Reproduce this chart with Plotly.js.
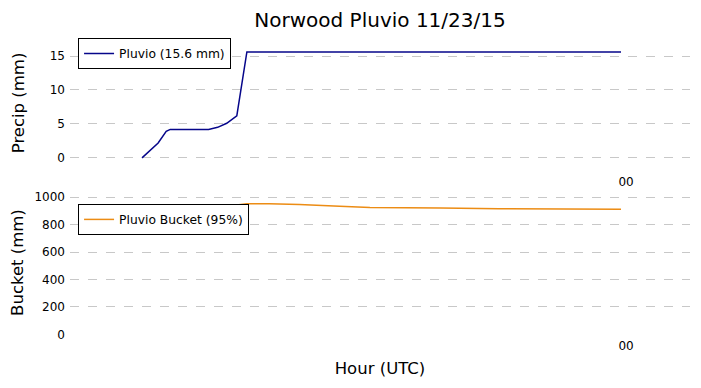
<!DOCTYPE html>
<html>
<head>
<meta charset="utf-8">
<script src="https://cdn.plot.ly/plotly-3.0.1.min.js"></script>
<style>
html,body{margin:0;padding:0;background:#fff;}
#chart{width:701px;height:388px;}
</style>
</head>
<body>
<div id="chart"></div>
<script>
// Hours since 2015-11-23 00:00 UTC
const pluvioHours = [0, 0.5, 0.8, 1.2, 1.4, 3.3, 3.75, 4.2, 4.7, 5.2, 23.75];
const pluvioPrecip = [0, 1.3, 2.2, 3.9, 4.2, 4.2, 4.5, 5.1, 6.2, 15.6, 15.6];

const bucketHours = [0, 1.2, 3.3, 4.7, 5.2, 6.3, 7.8, 9.8, 11.3, 14.8, 17.7, 23.75];
const bucketLevel = [936, 939, 940, 942, 951, 951, 946, 933, 925, 920, 915, 911];

const xTickVals = [24];
const xTickText = ['00'];

const font = 'DejaVu Sans, sans-serif';
const gridCol = '#c8c8c8';

const traces = [
  {x: pluvioHours, y: pluvioPrecip, type: 'scatter', mode: 'lines',
   name: 'Pluvio (15.6 mm)', line: {color: '#06068a', width: 1.5},
   xaxis: 'x', yaxis: 'y', legend: 'legend'},
  {x: bucketHours, y: bucketLevel, type: 'scatter', mode: 'lines',
   name: 'Pluvio Bucket (95%)', line: {color: '#ec8c14', width: 1.5},
   xaxis: 'x2', yaxis: 'y2', legend: 'legend2'}
];

const xr = [-3.57, 27.17];
const xCommon = {range: xr, showgrid: false, zeroline: false, showline: false,
  tickmode: 'array', tickvals: xTickVals, ticktext: xTickText, ticks: '',
  ticklabelstandoff: 2,
  tickfont: {family: font, size: 12, color: '#000'}, fixedrange: true};
const yCommon = {showgrid: true, gridcolor: gridCol, griddash: 'dash', gridwidth: 1,
  zeroline: false, showline: false, ticks: '', ticklabelstandoff: 4,
  tickfont: {family: font, size: 12, color: '#000'}};

const layout = {
  width: 701, height: 388,
  margin: {l: 70, r: 11, t: 35, b: 53},
  paper_bgcolor: '#fff', plot_bgcolor: '#fff',
  font: {family: font, color: '#000'},
  title: {text: 'Norwood Pluvio 11/23/15', font: {family: font, size: 20, color: '#000'},
          x: 0.5, xref: 'paper', xanchor: 'center', y: 0.948, yanchor: 'middle'},
  xaxis: Object.assign({}, xCommon, {anchor: 'y'}),
  xaxis2: Object.assign({}, xCommon, {anchor: 'y2',
    title: {text: 'Hour (UTC)', font: {family: font, size: 16.5, color: '#000'}, standoff: 10}}),
  yaxis: Object.assign({}, yCommon, {domain: [0.547, 1], range: [-1.91, 18.09],
    tickvals: [0, 5, 10, 15],
    title: {text: 'Precip (mm)', font: {family: font, size: 16.5, color: '#000'}, standoff: 20}}),
  yaxis2: Object.assign({}, yCommon, {domain: [0, 0.483], range: [-4, 1051],
    tickvals: [0, 200, 400, 600, 800, 1000],
    title: {text: 'Bucket (mm)', font: {family: font, size: 16.5, color: '#000'}, standoff: 6}}),
  showlegend: true,
  legend: {x: 0.013, y: 0.99, xanchor: 'left', yanchor: 'top', bgcolor: '#fff',
    bordercolor: '#000', borderwidth: 1, font: {family: font, size: 12.3, color: '#000'}},
  legend2: {x: 0.013, y: 0.437, xanchor: 'left', yanchor: 'top', bgcolor: '#fff',
    bordercolor: '#000', borderwidth: 1, font: {family: font, size: 12.3, color: '#000'}}
};

Plotly.newPlot('chart', traces, layout, {staticPlot: true, displayModeBar: false});
</script>
</body>
</html>
